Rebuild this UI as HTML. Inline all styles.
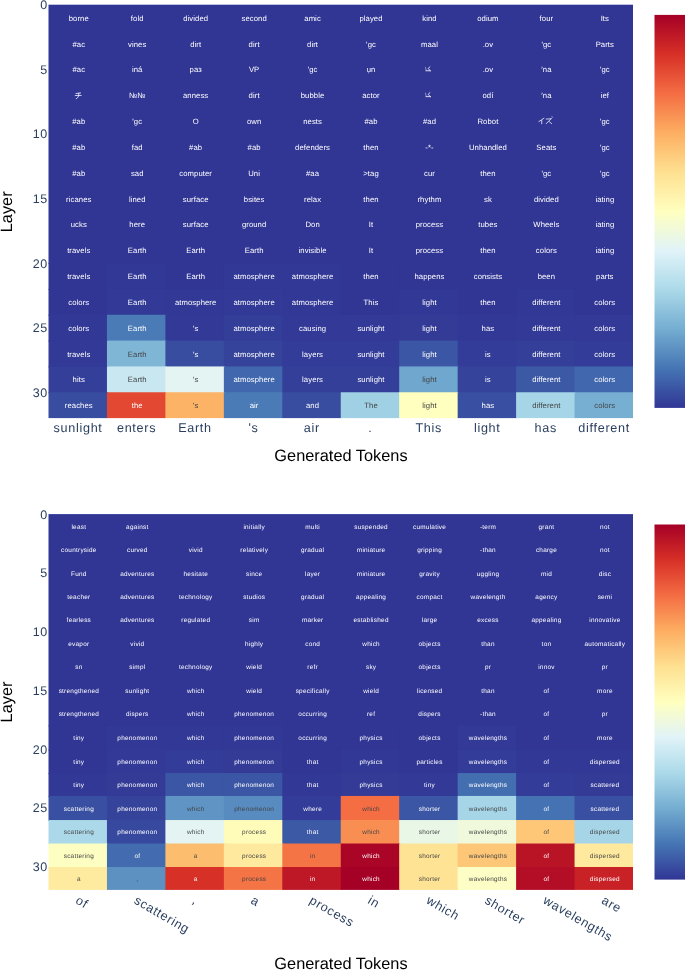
<!DOCTYPE html>
<html><head><meta charset="utf-8"><title>Heatmaps</title>
<style>
html,body{margin:0;padding:0;background:#fff;}
body{width:685px;height:970px;overflow:hidden;font-family:"Liberation Sans",sans-serif;}
svg{display:block;font-family:"Liberation Sans",sans-serif;will-change:transform;}
svg text{text-rendering:geometricPrecision;}
</style></head><body>
<svg width="685" height="970" viewBox="0 0 685 970">
<rect width="685" height="970" fill="#fff"/>
<rect x="48.5" y="4.7" width="584.5" height="259.38" fill="rgb(49,54,149)"/>
<rect x="48.50" y="263.07" width="59.45" height="26.84" fill="rgb(49,54,149)"/>
<rect x="106.95" y="263.07" width="59.45" height="26.84" fill="rgb(50,56,150)"/>
<rect x="165.40" y="263.07" width="59.45" height="26.84" fill="rgb(49,54,149)"/>
<rect x="223.85" y="263.07" width="59.45" height="26.84" fill="rgb(50,56,150)"/>
<rect x="282.30" y="263.07" width="59.45" height="26.84" fill="rgb(50,56,150)"/>
<rect x="340.75" y="263.07" width="59.45" height="26.84" fill="rgb(49,54,149)"/>
<rect x="399.20" y="263.07" width="59.45" height="26.84" fill="rgb(49,54,149)"/>
<rect x="457.65" y="263.07" width="59.45" height="26.84" fill="rgb(49,54,149)"/>
<rect x="516.10" y="263.07" width="59.45" height="26.84" fill="rgb(49,54,149)"/>
<rect x="574.55" y="263.07" width="58.45" height="26.84" fill="rgb(49,54,149)"/>
<rect x="48.50" y="288.91" width="59.45" height="26.84" fill="rgb(49,54,149)"/>
<rect x="106.95" y="288.91" width="59.45" height="26.84" fill="rgb(50,57,151)"/>
<rect x="165.40" y="288.91" width="59.45" height="26.84" fill="rgb(50,56,150)"/>
<rect x="223.85" y="288.91" width="59.45" height="26.84" fill="rgb(50,57,151)"/>
<rect x="282.30" y="288.91" width="59.45" height="26.84" fill="rgb(50,56,150)"/>
<rect x="340.75" y="288.91" width="59.45" height="26.84" fill="rgb(49,54,149)"/>
<rect x="399.20" y="288.91" width="59.45" height="26.84" fill="rgb(50,56,150)"/>
<rect x="457.65" y="288.91" width="59.45" height="26.84" fill="rgb(49,54,149)"/>
<rect x="516.10" y="288.91" width="59.45" height="26.84" fill="rgb(50,56,150)"/>
<rect x="574.55" y="288.91" width="58.45" height="26.84" fill="rgb(49,54,149)"/>
<rect x="48.50" y="314.75" width="59.45" height="26.84" fill="rgb(50,56,150)"/>
<rect x="106.95" y="314.75" width="59.45" height="26.84" fill="rgb(74,123,183)"/>
<rect x="165.40" y="314.75" width="59.45" height="26.84" fill="rgb(50,57,151)"/>
<rect x="223.85" y="314.75" width="59.45" height="26.84" fill="rgb(51,62,153)"/>
<rect x="282.30" y="314.75" width="59.45" height="26.84" fill="rgb(50,57,151)"/>
<rect x="340.75" y="314.75" width="59.45" height="26.84" fill="rgb(50,57,151)"/>
<rect x="399.20" y="314.75" width="59.45" height="26.84" fill="rgb(51,59,151)"/>
<rect x="457.65" y="314.75" width="59.45" height="26.84" fill="rgb(50,56,150)"/>
<rect x="516.10" y="314.75" width="59.45" height="26.84" fill="rgb(50,57,151)"/>
<rect x="574.55" y="314.75" width="58.45" height="26.84" fill="rgb(50,57,151)"/>
<rect x="48.50" y="340.59" width="59.45" height="26.84" fill="rgb(50,57,151)"/>
<rect x="106.95" y="340.59" width="59.45" height="26.84" fill="rgb(127,182,214)"/>
<rect x="165.40" y="340.59" width="59.45" height="26.84" fill="rgb(56,76,160)"/>
<rect x="223.85" y="340.59" width="59.45" height="26.84" fill="rgb(53,67,155)"/>
<rect x="282.30" y="340.59" width="59.45" height="26.84" fill="rgb(51,60,152)"/>
<rect x="340.75" y="340.59" width="59.45" height="26.84" fill="rgb(51,60,152)"/>
<rect x="399.20" y="340.59" width="59.45" height="26.84" fill="rgb(59,86,164)"/>
<rect x="457.65" y="340.59" width="59.45" height="26.84" fill="rgb(51,60,152)"/>
<rect x="516.10" y="340.59" width="59.45" height="26.84" fill="rgb(52,63,154)"/>
<rect x="574.55" y="340.59" width="58.45" height="26.84" fill="rgb(51,60,152)"/>
<rect x="48.50" y="366.43" width="59.45" height="26.84" fill="rgb(52,63,154)"/>
<rect x="106.95" y="366.43" width="59.45" height="26.84" fill="rgb(200,231,241)"/>
<rect x="165.40" y="366.43" width="59.45" height="26.84" fill="rgb(227,244,242)"/>
<rect x="223.85" y="366.43" width="59.45" height="26.84" fill="rgb(65,104,174)"/>
<rect x="282.30" y="366.43" width="59.45" height="26.84" fill="rgb(52,63,154)"/>
<rect x="340.75" y="366.43" width="59.45" height="26.84" fill="rgb(52,63,154)"/>
<rect x="399.20" y="366.43" width="59.45" height="26.84" fill="rgb(111,167,206)"/>
<rect x="457.65" y="366.43" width="59.45" height="26.84" fill="rgb(53,67,155)"/>
<rect x="516.10" y="366.43" width="59.45" height="26.84" fill="rgb(60,89,166)"/>
<rect x="574.55" y="366.43" width="58.45" height="26.84" fill="rgb(65,104,174)"/>
<rect x="48.50" y="392.26" width="59.45" height="25.84" fill="rgb(56,76,160)"/>
<rect x="106.95" y="392.26" width="59.45" height="25.84" fill="rgb(227,72,50)"/>
<rect x="165.40" y="392.26" width="59.45" height="25.84" fill="rgb(253,179,102)"/>
<rect x="223.85" y="392.26" width="59.45" height="25.84" fill="rgb(74,123,183)"/>
<rect x="282.30" y="392.26" width="59.45" height="25.84" fill="rgb(56,76,160)"/>
<rect x="340.75" y="392.26" width="59.45" height="25.84" fill="rgb(160,208,228)"/>
<rect x="399.20" y="392.26" width="59.45" height="25.84" fill="rgb(255,255,191)"/>
<rect x="457.65" y="392.26" width="59.45" height="25.84" fill="rgb(57,79,161)"/>
<rect x="516.10" y="392.26" width="59.45" height="25.84" fill="rgb(166,213,231)"/>
<rect x="574.55" y="392.26" width="58.45" height="25.84" fill="rgb(119,175,210)"/>
<g font-size="7.7" letter-spacing="0.08" text-anchor="middle">
<text x="78.77" y="20.72" fill="#fff">borne</text>
<text x="137.22" y="20.72" fill="#fff">fold</text>
<text x="195.66" y="20.72" fill="#fff">divided</text>
<text x="254.12" y="20.72" fill="#fff">second</text>
<text x="312.57" y="20.72" fill="#fff">amic</text>
<text x="371.02" y="20.72" fill="#fff">played</text>
<text x="429.47" y="20.72" fill="#fff">kind</text>
<text x="487.92" y="20.72" fill="#fff">odium</text>
<text x="546.37" y="20.72" fill="#fff">four</text>
<text x="604.81" y="20.72" fill="#fff">Its</text>
<text x="78.77" y="46.56" fill="#fff">#ac</text>
<text x="137.22" y="46.56" fill="#fff">vines</text>
<text x="195.66" y="46.56" fill="#fff">dirt</text>
<text x="254.12" y="46.56" fill="#fff">dirt</text>
<text x="312.57" y="46.56" fill="#fff">dirt</text>
<text x="371.02" y="46.56" fill="#fff">'gc</text>
<text x="429.47" y="46.56" fill="#fff">maal</text>
<text x="487.92" y="46.56" fill="#fff">.ov</text>
<text x="546.37" y="46.56" fill="#fff">'gc</text>
<text x="604.81" y="46.56" fill="#fff">Parts</text>
<text x="78.77" y="72.39" fill="#fff">#ac</text>
<text x="137.22" y="72.39" fill="#fff">iná</text>
<text x="195.66" y="72.39" fill="#fff">раз</text>
<text x="254.12" y="72.39" fill="#fff">VP</text>
<text x="312.57" y="72.39" fill="#fff">'gc</text>
<text x="371.02" y="72.39" fill="#fff">ụn</text>
<path transform="translate(428.43,69.29)" d="M-2.4,1.5 L2.1,1.5 M1.5,-2.5 L-0.3,-0.8 L1.0,0.7 L1.9,1.4" fill="none" stroke="#fff" stroke-width="0.8" stroke-linecap="round" stroke-linejoin="round"/>
<path transform="translate(428.43,69.29)" d="M-3.0,-2.0 L-2.2,1.3" fill="none" stroke="#fff" stroke-width="0.45" stroke-linecap="round" stroke-linejoin="round"/>
<text x="487.92" y="72.39" fill="#fff">.ov</text>
<text x="546.37" y="72.39" fill="#fff">′na</text>
<text x="604.81" y="72.39" fill="#fff">'gc</text>
<path transform="translate(77.72,95.13)" d="M-1.7,-1.6 L2.9,-2.2 M-2.5,0.35 L3.45,0.35 M1.1,-1.9 L0.9,0.8 Q0.6,2.4 -1.5,3.6" fill="none" stroke="#fff" stroke-width="0.75" stroke-linecap="round" stroke-linejoin="round"/>
<text x="137.22" y="98.23" fill="#fff">№№</text>
<text x="195.66" y="98.23" fill="#fff">anness</text>
<text x="254.12" y="98.23" fill="#fff">dirt</text>
<text x="312.57" y="98.23" fill="#fff">bubble</text>
<text x="371.02" y="98.23" fill="#fff">actor</text>
<path transform="translate(428.43,95.13)" d="M-2.4,1.5 L2.1,1.5 M1.5,-2.5 L-0.3,-0.8 L1.0,0.7 L1.9,1.4" fill="none" stroke="#fff" stroke-width="0.8" stroke-linecap="round" stroke-linejoin="round"/>
<path transform="translate(428.43,95.13)" d="M-3.0,-2.0 L-2.2,1.3" fill="none" stroke="#fff" stroke-width="0.45" stroke-linecap="round" stroke-linejoin="round"/>
<text x="487.92" y="98.23" fill="#fff">odí</text>
<text x="546.37" y="98.23" fill="#fff">′na</text>
<text x="604.81" y="98.23" fill="#fff">ief</text>
<text x="78.77" y="124.07" fill="#fff">#ab</text>
<text x="137.22" y="124.07" fill="#fff">'gc</text>
<text x="195.66" y="124.07" fill="#fff">O</text>
<text x="254.12" y="124.07" fill="#fff">own</text>
<text x="312.57" y="124.07" fill="#fff">nests</text>
<text x="371.02" y="124.07" fill="#fff">#ab</text>
<text x="429.47" y="124.07" fill="#fff">#ad</text>
<text x="487.92" y="124.07" fill="#fff">Robot</text>
<path transform="translate(545.33,120.97)" d="M-1.4,-2.7 L-6.5,0.6 M-3.6,-0.5 L-3.6,2.8 M0.9,-1.9 L5.7,-2.2 M6.0,-2.5 L0.9,2.7 M4.0,0.7 L6.3,2.7 M6.7,-4.3 L7.1,-3.8" fill="none" stroke="#fff" stroke-width="0.75" stroke-linecap="round" stroke-linejoin="round"/>
<text x="604.81" y="124.07" fill="#fff">'gc</text>
<text x="78.77" y="149.91" fill="#fff">#ab</text>
<text x="137.22" y="149.91" fill="#fff">fad</text>
<text x="195.66" y="149.91" fill="#fff">#ab</text>
<text x="254.12" y="149.91" fill="#fff">#ab</text>
<text x="312.57" y="149.91" fill="#fff">defenders</text>
<text x="371.02" y="149.91" fill="#fff">then</text>
<text x="429.47" y="149.91" fill="#fff">-*-</text>
<text x="487.92" y="149.91" fill="#fff">Unhandled</text>
<text x="546.37" y="149.91" fill="#fff">Seats</text>
<text x="604.81" y="149.91" fill="#fff">'gc</text>
<text x="78.77" y="175.74" fill="#fff">#ab</text>
<text x="137.22" y="175.74" fill="#fff">sad</text>
<text x="195.66" y="175.74" fill="#fff">computer</text>
<text x="254.12" y="175.74" fill="#fff">Uni</text>
<text x="312.57" y="175.74" fill="#fff">#aa</text>
<text x="371.02" y="175.74" fill="#fff">&gt;tag</text>
<text x="429.47" y="175.74" fill="#fff">cur</text>
<text x="487.92" y="175.74" fill="#fff">then</text>
<text x="546.37" y="175.74" fill="#fff">'gc</text>
<text x="604.81" y="175.74" fill="#fff">'gc</text>
<text x="78.77" y="201.58" fill="#fff">ricanes</text>
<text x="137.22" y="201.58" fill="#fff">lined</text>
<text x="195.66" y="201.58" fill="#fff">surface</text>
<text x="254.12" y="201.58" fill="#fff">bsites</text>
<text x="312.57" y="201.58" fill="#fff">relax</text>
<text x="371.02" y="201.58" fill="#fff">then</text>
<text x="429.47" y="201.58" fill="#fff">rhythm</text>
<text x="487.92" y="201.58" fill="#fff">sk</text>
<text x="546.37" y="201.58" fill="#fff">divided</text>
<text x="604.81" y="201.58" fill="#fff">iating</text>
<text x="78.77" y="227.42" fill="#fff">ucks</text>
<text x="137.22" y="227.42" fill="#fff">here</text>
<text x="195.66" y="227.42" fill="#fff">surface</text>
<text x="254.12" y="227.42" fill="#fff">ground</text>
<text x="312.57" y="227.42" fill="#fff">Don</text>
<text x="371.02" y="227.42" fill="#fff">It</text>
<text x="429.47" y="227.42" fill="#fff">process</text>
<text x="487.92" y="227.42" fill="#fff">tubes</text>
<text x="546.37" y="227.42" fill="#fff">Wheels</text>
<text x="604.81" y="227.42" fill="#fff">iating</text>
<text x="78.77" y="253.26" fill="#fff">travels</text>
<text x="137.22" y="253.26" fill="#fff">Earth</text>
<text x="195.66" y="253.26" fill="#fff">Earth</text>
<text x="254.12" y="253.26" fill="#fff">Earth</text>
<text x="312.57" y="253.26" fill="#fff">invisible</text>
<text x="371.02" y="253.26" fill="#fff">It</text>
<text x="429.47" y="253.26" fill="#fff">process</text>
<text x="487.92" y="253.26" fill="#fff">then</text>
<text x="546.37" y="253.26" fill="#fff">colors</text>
<text x="604.81" y="253.26" fill="#fff">iating</text>
<text x="78.77" y="279.09" fill="#fff">travels</text>
<text x="137.22" y="279.09" fill="#fff">Earth</text>
<text x="195.66" y="279.09" fill="#fff">Earth</text>
<text x="254.12" y="279.09" fill="#fff">atmosphere</text>
<text x="312.57" y="279.09" fill="#fff">atmosphere</text>
<text x="371.02" y="279.09" fill="#fff">then</text>
<text x="429.47" y="279.09" fill="#fff">happens</text>
<text x="487.92" y="279.09" fill="#fff">consists</text>
<text x="546.37" y="279.09" fill="#fff">been</text>
<text x="604.81" y="279.09" fill="#fff">parts</text>
<text x="78.77" y="304.93" fill="#fff">colors</text>
<text x="137.22" y="304.93" fill="#fff">Earth</text>
<text x="195.66" y="304.93" fill="#fff">atmosphere</text>
<text x="254.12" y="304.93" fill="#fff">atmosphere</text>
<text x="312.57" y="304.93" fill="#fff">atmosphere</text>
<text x="371.02" y="304.93" fill="#fff">This</text>
<text x="429.47" y="304.93" fill="#fff">light</text>
<text x="487.92" y="304.93" fill="#fff">then</text>
<text x="546.37" y="304.93" fill="#fff">different</text>
<text x="604.81" y="304.93" fill="#fff">colors</text>
<text x="78.77" y="330.77" fill="#fff">colors</text>
<text x="137.22" y="330.77" fill="#fff">Earth</text>
<text x="195.66" y="330.77" fill="#fff">'s</text>
<text x="254.12" y="330.77" fill="#fff">atmosphere</text>
<text x="312.57" y="330.77" fill="#fff">causing</text>
<text x="371.02" y="330.77" fill="#fff">sunlight</text>
<text x="429.47" y="330.77" fill="#fff">light</text>
<text x="487.92" y="330.77" fill="#fff">has</text>
<text x="546.37" y="330.77" fill="#fff">different</text>
<text x="604.81" y="330.77" fill="#fff">colors</text>
<text x="78.77" y="356.61" fill="#fff">travels</text>
<text x="137.22" y="356.61" fill="#444">Earth</text>
<text x="195.66" y="356.61" fill="#fff">'s</text>
<text x="254.12" y="356.61" fill="#fff">atmosphere</text>
<text x="312.57" y="356.61" fill="#fff">layers</text>
<text x="371.02" y="356.61" fill="#fff">sunlight</text>
<text x="429.47" y="356.61" fill="#fff">light</text>
<text x="487.92" y="356.61" fill="#fff">is</text>
<text x="546.37" y="356.61" fill="#fff">different</text>
<text x="604.81" y="356.61" fill="#fff">colors</text>
<text x="78.77" y="382.44" fill="#fff">hits</text>
<text x="137.22" y="382.44" fill="#444">Earth</text>
<text x="195.66" y="382.44" fill="#444">'s</text>
<text x="254.12" y="382.44" fill="#fff">atmosphere</text>
<text x="312.57" y="382.44" fill="#fff">layers</text>
<text x="371.02" y="382.44" fill="#fff">sunlight</text>
<text x="429.47" y="382.44" fill="#444">light</text>
<text x="487.92" y="382.44" fill="#fff">is</text>
<text x="546.37" y="382.44" fill="#fff">different</text>
<text x="604.81" y="382.44" fill="#fff">colors</text>
<text x="78.77" y="408.28" fill="#fff">reaches</text>
<text x="137.22" y="408.28" fill="#fff">the</text>
<text x="195.66" y="408.28" fill="#444">'s</text>
<text x="254.12" y="408.28" fill="#fff">air</text>
<text x="312.57" y="408.28" fill="#fff">and</text>
<text x="371.02" y="408.28" fill="#444">The</text>
<text x="429.47" y="408.28" fill="#444">light</text>
<text x="487.92" y="408.28" fill="#fff">has</text>
<text x="546.37" y="408.28" fill="#444">different</text>
<text x="604.81" y="408.28" fill="#444">colors</text>
</g>
<rect x="48.5" y="514.1" width="584.5" height="212.39" fill="rgb(49,54,149)"/>
<rect x="48.50" y="725.49" width="59.45" height="25.09" fill="rgb(49,54,149)"/>
<rect x="106.95" y="725.49" width="59.45" height="25.09" fill="rgb(50,56,150)"/>
<rect x="165.40" y="725.49" width="59.45" height="25.09" fill="rgb(50,56,150)"/>
<rect x="223.85" y="725.49" width="59.45" height="25.09" fill="rgb(50,56,150)"/>
<rect x="282.30" y="725.49" width="59.45" height="25.09" fill="rgb(49,54,149)"/>
<rect x="340.75" y="725.49" width="59.45" height="25.09" fill="rgb(49,54,149)"/>
<rect x="399.20" y="725.49" width="59.45" height="25.09" fill="rgb(49,54,149)"/>
<rect x="457.65" y="725.49" width="59.45" height="25.09" fill="rgb(50,57,151)"/>
<rect x="516.10" y="725.49" width="59.45" height="25.09" fill="rgb(49,54,149)"/>
<rect x="574.55" y="725.49" width="58.45" height="25.09" fill="rgb(49,54,149)"/>
<rect x="48.50" y="749.58" width="59.45" height="24.49" fill="rgb(49,54,149)"/>
<rect x="106.95" y="749.58" width="59.45" height="24.49" fill="rgb(50,57,151)"/>
<rect x="165.40" y="749.58" width="59.45" height="24.49" fill="rgb(51,60,152)"/>
<rect x="223.85" y="749.58" width="59.45" height="24.49" fill="rgb(51,59,151)"/>
<rect x="282.30" y="749.58" width="59.45" height="24.49" fill="rgb(49,54,149)"/>
<rect x="340.75" y="749.58" width="59.45" height="24.49" fill="rgb(50,56,150)"/>
<rect x="399.20" y="749.58" width="59.45" height="24.49" fill="rgb(49,54,149)"/>
<rect x="457.65" y="749.58" width="59.45" height="24.49" fill="rgb(51,60,152)"/>
<rect x="516.10" y="749.58" width="59.45" height="24.49" fill="rgb(50,56,150)"/>
<rect x="574.55" y="749.58" width="58.45" height="24.49" fill="rgb(50,56,150)"/>
<rect x="48.50" y="773.06" width="59.45" height="23.89" fill="rgb(50,56,150)"/>
<rect x="106.95" y="773.06" width="59.45" height="23.89" fill="rgb(51,59,151)"/>
<rect x="165.40" y="773.06" width="59.45" height="23.89" fill="rgb(59,86,164)"/>
<rect x="223.85" y="773.06" width="59.45" height="23.89" fill="rgb(59,86,164)"/>
<rect x="282.30" y="773.06" width="59.45" height="23.89" fill="rgb(50,56,150)"/>
<rect x="340.75" y="773.06" width="59.45" height="23.89" fill="rgb(51,59,151)"/>
<rect x="399.20" y="773.06" width="59.45" height="23.89" fill="rgb(50,57,151)"/>
<rect x="457.65" y="773.06" width="59.45" height="23.89" fill="rgb(67,111,177)"/>
<rect x="516.10" y="773.06" width="59.45" height="23.89" fill="rgb(51,60,152)"/>
<rect x="574.55" y="773.06" width="58.45" height="23.89" fill="rgb(51,59,151)"/>
<rect x="48.50" y="795.95" width="59.45" height="25.09" fill="rgb(57,80,162)"/>
<rect x="106.95" y="795.95" width="59.45" height="25.09" fill="rgb(53,67,155)"/>
<rect x="165.40" y="795.95" width="59.45" height="25.09" fill="rgb(95,148,196)"/>
<rect x="223.85" y="795.95" width="59.45" height="25.09" fill="rgb(88,139,192)"/>
<rect x="282.30" y="795.95" width="59.45" height="25.09" fill="rgb(51,60,152)"/>
<rect x="340.75" y="795.95" width="59.45" height="25.09" fill="rgb(244,109,67)"/>
<rect x="399.20" y="795.95" width="59.45" height="25.09" fill="rgb(59,86,164)"/>
<rect x="457.65" y="795.95" width="59.45" height="25.09" fill="rgb(166,213,231)"/>
<rect x="516.10" y="795.95" width="59.45" height="25.09" fill="rgb(68,114,178)"/>
<rect x="574.55" y="795.95" width="58.45" height="25.09" fill="rgb(57,79,161)"/>
<rect x="48.50" y="820.04" width="59.45" height="24.49" fill="rgb(171,217,233)"/>
<rect x="106.95" y="820.04" width="59.45" height="24.49" fill="rgb(55,73,158)"/>
<rect x="165.40" y="820.04" width="59.45" height="24.49" fill="rgb(227,244,242)"/>
<rect x="223.85" y="820.04" width="59.45" height="24.49" fill="rgb(255,252,186)"/>
<rect x="282.30" y="820.04" width="59.45" height="24.49" fill="rgb(60,89,166)"/>
<rect x="340.75" y="820.04" width="59.45" height="24.49" fill="rgb(248,142,82)"/>
<rect x="399.20" y="820.04" width="59.45" height="24.49" fill="rgb(233,247,231)"/>
<rect x="457.65" y="820.04" width="59.45" height="24.49" fill="rgb(240,249,220)"/>
<rect x="516.10" y="820.04" width="59.45" height="24.49" fill="rgb(254,199,120)"/>
<rect x="574.55" y="820.04" width="58.45" height="24.49" fill="rgb(166,213,231)"/>
<rect x="48.50" y="843.52" width="59.45" height="24.49" fill="rgb(253,254,194)"/>
<rect x="106.95" y="843.52" width="59.45" height="24.49" fill="rgb(66,108,175)"/>
<rect x="165.40" y="843.52" width="59.45" height="24.49" fill="rgb(253,189,111)"/>
<rect x="223.85" y="843.52" width="59.45" height="24.49" fill="rgb(254,233,158)"/>
<rect x="282.30" y="843.52" width="59.45" height="24.49" fill="rgb(245,116,70)"/>
<rect x="340.75" y="843.52" width="59.45" height="24.49" fill="rgb(170,5,38)"/>
<rect x="399.20" y="843.52" width="59.45" height="24.49" fill="rgb(254,227,149)"/>
<rect x="457.65" y="843.52" width="59.45" height="24.49" fill="rgb(254,199,120)"/>
<rect x="516.10" y="843.52" width="59.45" height="24.49" fill="rgb(185,19,38)"/>
<rect x="574.55" y="843.52" width="58.45" height="24.49" fill="rgb(254,233,158)"/>
<rect x="48.50" y="867.01" width="59.45" height="22.89" fill="rgb(254,235,160)"/>
<rect x="106.95" y="867.01" width="59.45" height="22.89" fill="rgb(92,145,194)"/>
<rect x="165.40" y="867.01" width="59.45" height="22.89" fill="rgb(215,48,39)"/>
<rect x="223.85" y="867.01" width="59.45" height="22.89" fill="rgb(245,116,70)"/>
<rect x="282.30" y="867.01" width="59.45" height="22.89" fill="rgb(190,24,38)"/>
<rect x="340.75" y="867.01" width="59.45" height="22.89" fill="rgb(165,0,38)"/>
<rect x="399.20" y="867.01" width="59.45" height="22.89" fill="rgb(254,227,149)"/>
<rect x="457.65" y="867.01" width="59.45" height="22.89" fill="rgb(252,254,197)"/>
<rect x="516.10" y="867.01" width="59.45" height="22.89" fill="rgb(180,14,38)"/>
<rect x="574.55" y="867.01" width="58.45" height="22.89" fill="rgb(200,34,39)"/>
<g font-size="6.4" letter-spacing="0.26" text-anchor="middle">
<text x="78.85" y="529.24" fill="#fff">least</text>
<text x="137.31" y="529.24" fill="#fff">against</text>
<text x="254.21" y="529.24" fill="#fff">initially</text>
<text x="312.66" y="529.24" fill="#fff">multi</text>
<text x="371.11" y="529.24" fill="#fff">suspended</text>
<text x="429.56" y="529.24" fill="#fff">cumulative</text>
<text x="488.00" y="529.24" fill="#fff">-term</text>
<text x="546.46" y="529.24" fill="#fff">grant</text>
<text x="604.90" y="529.24" fill="#fff">not</text>
<text x="78.85" y="552.13" fill="#fff">countryside</text>
<text x="137.31" y="552.13" fill="#fff">curved</text>
<text x="195.75" y="552.13" fill="#fff">vivid</text>
<text x="254.21" y="552.13" fill="#fff">relatively</text>
<text x="312.66" y="552.13" fill="#fff">gradual</text>
<text x="371.11" y="552.13" fill="#fff">miniature</text>
<text x="429.56" y="552.13" fill="#fff">gripping</text>
<text x="488.00" y="552.13" fill="#fff">-than</text>
<text x="546.46" y="552.13" fill="#fff">charge</text>
<text x="604.90" y="552.13" fill="#fff">not</text>
<text x="78.85" y="575.82" fill="#fff">Fund</text>
<text x="137.31" y="575.82" fill="#fff">adventures</text>
<text x="195.75" y="575.82" fill="#fff">hesitate</text>
<text x="254.21" y="575.82" fill="#fff">since</text>
<text x="312.66" y="575.82" fill="#fff">layer</text>
<text x="371.11" y="575.82" fill="#fff">miniature</text>
<text x="429.56" y="575.82" fill="#fff">gravity</text>
<text x="488.00" y="575.82" fill="#fff">uggling</text>
<text x="546.46" y="575.82" fill="#fff">mid</text>
<text x="604.90" y="575.82" fill="#fff">disc</text>
<text x="78.85" y="598.91" fill="#fff">teacher</text>
<text x="137.31" y="598.91" fill="#fff">adventures</text>
<text x="195.75" y="598.91" fill="#fff">technology</text>
<text x="254.21" y="598.91" fill="#fff">studios</text>
<text x="312.66" y="598.91" fill="#fff">gradual</text>
<text x="371.11" y="598.91" fill="#fff">appealing</text>
<text x="429.56" y="598.91" fill="#fff">compact</text>
<text x="488.00" y="598.91" fill="#fff">wavelength</text>
<text x="546.46" y="598.91" fill="#fff">agency</text>
<text x="604.90" y="598.91" fill="#fff">semi</text>
<text x="78.85" y="622.39" fill="#fff">fearless</text>
<text x="137.31" y="622.39" fill="#fff">adventures</text>
<text x="195.75" y="622.39" fill="#fff">regulated</text>
<text x="254.21" y="622.39" fill="#fff">sim</text>
<text x="312.66" y="622.39" fill="#fff">marker</text>
<text x="371.11" y="622.39" fill="#fff">established</text>
<text x="429.56" y="622.39" fill="#fff">large</text>
<text x="488.00" y="622.39" fill="#fff">excess</text>
<text x="546.46" y="622.39" fill="#fff">appealing</text>
<text x="604.90" y="622.39" fill="#fff">innovative</text>
<text x="78.85" y="645.88" fill="#fff">evapor</text>
<text x="137.31" y="645.88" fill="#fff">vivid</text>
<text x="254.21" y="645.88" fill="#fff">highly</text>
<text x="312.66" y="645.88" fill="#fff">cond</text>
<text x="371.11" y="645.88" fill="#fff">which</text>
<text x="429.56" y="645.88" fill="#fff">objects</text>
<text x="488.00" y="645.88" fill="#fff">than</text>
<text x="546.46" y="645.88" fill="#fff">ton</text>
<text x="604.90" y="645.88" fill="#fff">automatically</text>
<text x="78.85" y="669.37" fill="#fff">sn</text>
<text x="137.31" y="669.37" fill="#fff">simpl</text>
<text x="195.75" y="669.37" fill="#fff">technology</text>
<text x="254.21" y="669.37" fill="#fff">wield</text>
<text x="312.66" y="669.37" fill="#fff">refr</text>
<text x="371.11" y="669.37" fill="#fff">sky</text>
<text x="429.56" y="669.37" fill="#fff">objects</text>
<text x="488.00" y="669.37" fill="#fff">pr</text>
<text x="546.46" y="669.37" fill="#fff">innov</text>
<text x="604.90" y="669.37" fill="#fff">pr</text>
<text x="78.85" y="692.86" fill="#fff">strengthened</text>
<text x="137.31" y="692.86" fill="#fff">sunlight</text>
<text x="195.75" y="692.86" fill="#fff">which</text>
<text x="254.21" y="692.86" fill="#fff">wield</text>
<text x="312.66" y="692.86" fill="#fff">specifically</text>
<text x="371.11" y="692.86" fill="#fff">wield</text>
<text x="429.56" y="692.86" fill="#fff">licensed</text>
<text x="488.00" y="692.86" fill="#fff">than</text>
<text x="546.46" y="692.86" fill="#fff">of</text>
<text x="604.90" y="692.86" fill="#fff">more</text>
<text x="78.85" y="716.34" fill="#fff">strengthened</text>
<text x="137.31" y="716.34" fill="#fff">dispers</text>
<text x="195.75" y="716.34" fill="#fff">which</text>
<text x="254.21" y="716.34" fill="#fff">phenomenon</text>
<text x="312.66" y="716.34" fill="#fff">occurring</text>
<text x="371.11" y="716.34" fill="#fff">ref</text>
<text x="429.56" y="716.34" fill="#fff">dispers</text>
<text x="488.00" y="716.34" fill="#fff">-than</text>
<text x="546.46" y="716.34" fill="#fff">of</text>
<text x="604.90" y="716.34" fill="#fff">pr</text>
<text x="78.85" y="740.13" fill="#fff">tiny</text>
<text x="137.31" y="740.13" fill="#fff">phenomenon</text>
<text x="195.75" y="740.13" fill="#fff">which</text>
<text x="254.21" y="740.13" fill="#fff">phenomenon</text>
<text x="312.66" y="740.13" fill="#fff">occurring</text>
<text x="371.11" y="740.13" fill="#fff">physics</text>
<text x="429.56" y="740.13" fill="#fff">objects</text>
<text x="488.00" y="740.13" fill="#fff">wavelengths</text>
<text x="546.46" y="740.13" fill="#fff">of</text>
<text x="604.90" y="740.13" fill="#fff">more</text>
<text x="78.85" y="763.92" fill="#fff">tiny</text>
<text x="137.31" y="763.92" fill="#fff">phenomenon</text>
<text x="195.75" y="763.92" fill="#fff">which</text>
<text x="254.21" y="763.92" fill="#fff">phenomenon</text>
<text x="312.66" y="763.92" fill="#fff">that</text>
<text x="371.11" y="763.92" fill="#fff">physics</text>
<text x="429.56" y="763.92" fill="#fff">particles</text>
<text x="488.00" y="763.92" fill="#fff">wavelengths</text>
<text x="546.46" y="763.92" fill="#fff">of</text>
<text x="604.90" y="763.92" fill="#fff">dispersed</text>
<text x="78.85" y="787.11" fill="#fff">tiny</text>
<text x="137.31" y="787.11" fill="#fff">phenomenon</text>
<text x="195.75" y="787.11" fill="#fff">which</text>
<text x="254.21" y="787.11" fill="#fff">phenomenon</text>
<text x="312.66" y="787.11" fill="#fff">that</text>
<text x="371.11" y="787.11" fill="#fff">physics</text>
<text x="429.56" y="787.11" fill="#fff">tiny</text>
<text x="488.00" y="787.11" fill="#fff">wavelengths</text>
<text x="546.46" y="787.11" fill="#fff">of</text>
<text x="604.90" y="787.11" fill="#fff">scattered</text>
<text x="78.85" y="810.59" fill="#fff">scattering</text>
<text x="137.31" y="810.59" fill="#fff">phenomenon</text>
<text x="195.75" y="810.59" fill="#444">which</text>
<text x="254.21" y="810.59" fill="#444">phenomenon</text>
<text x="312.66" y="810.59" fill="#fff">where</text>
<text x="371.11" y="810.59" fill="#444">which</text>
<text x="429.56" y="810.59" fill="#fff">shorter</text>
<text x="488.00" y="810.59" fill="#444">wavelengths</text>
<text x="546.46" y="810.59" fill="#fff">of</text>
<text x="604.90" y="810.59" fill="#fff">scattered</text>
<text x="78.85" y="834.38" fill="#444">scattering</text>
<text x="137.31" y="834.38" fill="#fff">phenomenon</text>
<text x="195.75" y="834.38" fill="#444">which</text>
<text x="254.21" y="834.38" fill="#444">process</text>
<text x="312.66" y="834.38" fill="#fff">that</text>
<text x="371.11" y="834.38" fill="#444">which</text>
<text x="429.56" y="834.38" fill="#444">shorter</text>
<text x="488.00" y="834.38" fill="#444">wavelengths</text>
<text x="546.46" y="834.38" fill="#444">of</text>
<text x="604.90" y="834.38" fill="#444">dispersed</text>
<text x="78.85" y="857.87" fill="#444">scattering</text>
<text x="137.31" y="857.87" fill="#fff">of</text>
<text x="195.75" y="857.87" fill="#444">a</text>
<text x="254.21" y="857.87" fill="#444">process</text>
<text x="312.66" y="857.87" fill="#444">in</text>
<text x="371.11" y="857.87" fill="#fff">which</text>
<text x="429.56" y="857.87" fill="#444">shorter</text>
<text x="488.00" y="857.87" fill="#444">wavelengths</text>
<text x="546.46" y="857.87" fill="#fff">of</text>
<text x="604.90" y="857.87" fill="#444">dispersed</text>
<text x="78.85" y="881.06" fill="#444">a</text>
<text x="137.31" y="881.06" fill="#444">,</text>
<text x="195.75" y="881.06" fill="#fff">a</text>
<text x="254.21" y="881.06" fill="#444">process</text>
<text x="312.66" y="881.06" fill="#fff">in</text>
<text x="371.11" y="881.06" fill="#fff">which</text>
<text x="429.56" y="881.06" fill="#444">shorter</text>
<text x="488.00" y="881.06" fill="#444">wavelengths</text>
<text x="546.46" y="881.06" fill="#fff">of</text>
<text x="604.90" y="881.06" fill="#fff">dispersed</text>
</g>
<defs><linearGradient id="g1" x1="0" y1="0" x2="0" y2="1"><stop offset="0%" stop-color="rgb(165, 0, 38)"/><stop offset="10%" stop-color="rgb(215, 48, 39)"/><stop offset="20%" stop-color="rgb(244, 109, 67)"/><stop offset="30%" stop-color="rgb(253, 174, 97)"/><stop offset="40%" stop-color="rgb(254, 224, 144)"/><stop offset="50%" stop-color="rgb(255, 255, 191)"/><stop offset="60%" stop-color="rgb(224, 243, 248)"/><stop offset="70%" stop-color="rgb(171, 217, 233)"/><stop offset="80%" stop-color="rgb(116, 173, 209)"/><stop offset="90%" stop-color="rgb(69, 117, 180)"/><stop offset="100%" stop-color="rgb(49, 54, 149)"/></linearGradient></defs>
<rect x="654.5" y="14.9" width="40" height="393.0" fill="url(#g1)"/>
<defs><linearGradient id="g2" x1="0" y1="0" x2="0" y2="1"><stop offset="0%" stop-color="rgb(165, 0, 38)"/><stop offset="10%" stop-color="rgb(215, 48, 39)"/><stop offset="20%" stop-color="rgb(244, 109, 67)"/><stop offset="30%" stop-color="rgb(253, 174, 97)"/><stop offset="40%" stop-color="rgb(254, 224, 144)"/><stop offset="50%" stop-color="rgb(255, 255, 191)"/><stop offset="60%" stop-color="rgb(224, 243, 248)"/><stop offset="70%" stop-color="rgb(171, 217, 233)"/><stop offset="80%" stop-color="rgb(116, 173, 209)"/><stop offset="90%" stop-color="rgb(69, 117, 180)"/><stop offset="100%" stop-color="rgb(49, 54, 149)"/></linearGradient></defs>
<rect x="654.5" y="524.5" width="40" height="355.1" fill="url(#g2)"/>
<g font-size="12.5" letter-spacing="0.6" fill="#2a3f5f" text-anchor="end">
<text x="47.8" y="9.20">0</text>
<text x="47.8" y="73.79">5</text>
<text x="47.8" y="138.39">10</text>
<text x="47.8" y="202.98">15</text>
<text x="47.8" y="267.57">20</text>
<text x="47.8" y="332.17">25</text>
<text x="47.8" y="396.76">30</text>
</g>
<g font-size="12.5" letter-spacing="0.6" fill="#2a3f5f" text-anchor="end">
<text x="47.8" y="518.60">0</text>
<text x="47.8" y="577.32">5</text>
<text x="47.8" y="636.04">10</text>
<text x="47.8" y="694.76">15</text>
<text x="47.8" y="754.08">20</text>
<text x="47.8" y="812.19">25</text>
<text x="47.8" y="870.91">30</text>
</g>
<g font-size="12.6" letter-spacing="0.7" fill="#2a3f5f" text-anchor="middle">
<text x="78.07" y="431.7">sunlight</text>
<text x="136.53" y="431.7">enters</text>
<text x="194.97" y="431.7">Earth</text>
<text x="253.43" y="431.7">'s</text>
<text x="311.88" y="431.7">air</text>
<text x="370.33" y="431.7">.</text>
<text x="428.78" y="431.7">This</text>
<text x="487.23" y="431.7">light</text>
<text x="545.68" y="431.7">has</text>
<text x="604.12" y="431.7">different</text>
</g>
<g font-size="12.6" letter-spacing="0.7" fill="#2a3f5f" text-anchor="start">
<text transform="translate(74.72,902.8) rotate(30)" x="0" y="0">of</text>
<text transform="translate(133.18,902.8) rotate(30)" x="0" y="0">scattering</text>
<text transform="translate(191.62,902.8) rotate(30)" x="0" y="0">,</text>
<text transform="translate(250.08,902.8) rotate(30)" x="0" y="0">a</text>
<text transform="translate(308.53,902.8) rotate(30)" x="0" y="0">process</text>
<text transform="translate(366.98,902.8) rotate(30)" x="0" y="0">in</text>
<text transform="translate(425.43,902.8) rotate(30)" x="0" y="0">which</text>
<text transform="translate(483.88,902.8) rotate(30)" x="0" y="0">shorter</text>
<text transform="translate(542.33,902.8) rotate(30)" x="0" y="0">wavelengths</text>
<text transform="translate(600.77,902.8) rotate(30)" x="0" y="0">are</text>
</g>
<g font-size="16.35" fill="#000" text-anchor="middle">
<text x="341" y="461.0">Generated Tokens</text>
<text x="341" y="968.9">Generated Tokens</text>
<text transform="translate(12.0,211.8) rotate(-90)">Layer</text>
<text transform="translate(12.2,702) rotate(-90)">Layer</text>
</g>
</svg>
</body></html>
